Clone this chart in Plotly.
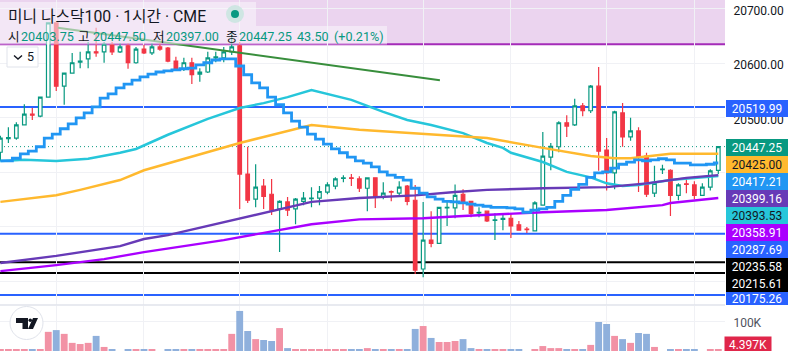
import plotly.graph_objects as go

# ---------- data ----------
opens = [20437,20462,20463,20487,20507,20503,20538,20674,20558,20582,20602,20608,20621,20621,20634,20621,20632,20601,20626,20619,
         20630,20628,20604,20590,20601,20580,20584,20610,20610,20621,20632,20397,20351,20375,20360,20333,20346,20333,20347,20352,
         20353,20364,20375,20389,20390,20388,20371,20390,20355,20365,20362,20375,20349,20223,20276,20270,20335,20335,20360,20347,
         20326,20329,20312,20314,20316,20304,20296,20293,20340,20428,20447,20491,20487,20522,20513,20558,20441,20399,20509,20465,
         20476,20430,20362,20405,20404,20358,20379,20377,20358,20373,20403.75]
highs = [20467,20483,20492,20525,20518,20538,20674,20674,20582,20619,20621,20639,20665,20639,20639,20637,20637,20630,20634,20637,
         20637,20630,20612,20610,20610,20591,20621,20621,20630,20656,20639,20447,20415,20388,20388,20349,20355,20353,20364,20373,
         20375,20382,20391,20395,20397,20393,20391,20391,20382,20367,20384,20377,20377,20346,20329,20336,20346,20378,20369,20347,
         20336,20329,20325,20324,20325,20311,20300,20347,20474,20454,20494,20505,20535,20527,20560,20593,20463,20513,20527,20500,
         20483,20436,20412,20414,20406,20380,20391,20384,20380,20406,20447.5]
lows = [20421,20454,20460,20487,20496,20501,20538,20549,20524,20582,20591,20591,20612,20601,20615,20619,20590,20599,20617,20615,
        20623,20602,20586,20586,20562,20566,20582,20602,20602,20615,20333,20344,20336,20333,20322,20254,20320,20305,20340,20336,
        20340,20360,20369,20382,20375,20364,20329,20335,20351,20347,20355,20340,20214,20208,20263,20269,20302,20316,20331,20318,
        20318,20309,20276,20294,20280,20293,20289,20293,20340,20404,20437,20465,20485,20503,20509,20403,20367,20369,20447,20458,
        20364,20355,20355,20397,20320,20349,20362,20351,20358,20367,20397]
closes = [20463,20464,20487,20507,20505,20538,20674,20558,20582,20601,20604,20621,20619,20635,20621,20630,20601,20626,20619,20630,
          20626,20604,20590,20601,20579,20584,20610,20612,20621,20630,20397,20349,20373,20356,20331,20347,20331,20351,20353,20353,
          20365,20377,20388,20390,20389,20371,20390,20356,20362,20364,20373,20347,20221,20276,20270,20336,20336,20358,20346,20325,
          20327,20311,20313,20316,20302,20294,20295,20344,20430,20448,20491,20485,20522,20513,20558,20439,20399,20511,20465,20476,
          20428,20360,20380,20406,20358,20377,20378,20358,20373,20403,20447.25]
volumes_k = [7,7,4,7,4,7,66,72,59,28,24,28,52,14,4,0,4,4,4,4,0,4,4,4,7,4,7,7,7,59,138,69,41,38,34.5,79,10,4,4,4,4,4,4,4,4,4,10,7,7,4,4,7,
             76,86,45,31,31,34.5,41,10,4,4,4,4,4,4,0,4,17,10,10,7,7,7,21,100,93,52,41,28,62,59,14,0,7,4,4,4,0,4,4.397]
volume_kind = list("ppppbppbppppbpb" "bbpbpb" "bbpbpppppbbp" "bbpb" "ppppppp" "bb" "pbpbpb" "bpbpppbb" "pbppbb" "bppp" "pbpbpbbpbpbbpbbpbbbpp")
step_line = [20421,20421,20426,20434,20439,20447,20463,20470,20480,20489,20500,20509,20520,20536,20544,20555,20562,20569,20575,20580,
             20584,20586,20588,20590,20591,20597,20601,20606,20608,20608,20595,20579,20564,20555,20538,20524,20509,20494,20483,20470,
             20461,20452,20443,20436,20428,20421,20417,20410,20401,20395,20391,20386,20371,20362,20355,20351,20347,20346,20344,20342,
             20340,20338,20336,20336,20335,20333,20327,20331,20333,20336,20347,20358,20369,20378,20391,20399,20401,20408,20415,20419,
             20423,20421,20423,20425,20423,20417,20417,20414,20414,20415,20417.21]
cyan_i = [0,3,7,11,15,17,21,26,30,33,36,39,44,48,51,54,58,61,63,64,68,71,74,76,78,80,84,88,90]
cyan_v = [20421,20423,20421,20425,20436,20443,20469,20498,20518,20527,20538,20551,20533,20511,20496,20487,20472,20454,20445,20436,
          20419,20401,20391,20380,20375,20377,20386,20391,20393.53]
yellow_i = [0,7,10,15,18,30,33,39,45,53,61,68,74,77,79,84,90]
yellow_v = [20346,20358,20368,20386,20404,20454,20465,20487,20478,20470,20463,20445,20430,20426,20426,20434,20434]
violet_i = [0,7,15,18,21,33,39,45,52,57,61,68,76,81,86,90]
violet_v = [20234,20247,20265,20278,20285,20325,20346,20353,20358,20364,20368,20371,20373,20380,20390,20395]
magenta_i = [0,7,13,18,28,33,39,45,53,58,63,68,76,83,84,90]
magenta_v = [20219,20230,20241,20254,20276,20289,20305,20314,20316,20320,20324,20327,20331,20340,20344,20353]
trend_i = [7.2,55.1]
trend_v = [20665,20569]
blue_levels = [20519.99,20287.69,20175.26]
black_levels = [20235.58,20215.61]
box_level = 20635
last_price = 20447.25
grid_i = [7,18,30,41,53,64,76,87]
price_ticks = [20700,20600,20500,20400,20300,20200]
price_tick_text = ["20700.00","20600.00","20500.00","","",""]
axis_labels = [("20519.99",108,"#2962ff","#ffffff"),("20447.25",147.5,"#089981","#ffffff"),("20425.00",164.5,"#ffb92e","#131722"),
               ("20417.21",181.5,"#2196f3","#ffffff"),("20399.16",198.5,"#673ab7","#ffffff"),("20393.53",215.5,"#26c6da","#131722"),
               ("20358.91",232.5,"#aa00ff","#ffffff"),("20287.69",249.5,"#2962ff","#ffffff"),("20235.58",266.5,"#000000","#ffffff"),
               ("20215.61",283.5,"#000000","#ffffff"),("20175.26",300,"#2962ff","#ffffff")]
title_text = "미니 나스닥100 · 1시간 · CME"
ohlc_row = [("시",7,"#131722"),("20403.75",20,"#089981"),("고",77,"#131722"),("20447.50",92,"#089981"),("저",152,"#131722"),
            ("20397.00",165,"#089981"),("종",225,"#131722"),("20447.25",238,"#089981"),("43.50",296,"#089981"),("(+0.21%)",333,"#089981")]

# ---------- helpers ----------
W, H = 788, 351
PANE_R = 725
px = lambda v: v / W
py = lambda v: 1 - v / H
FONT = "Roboto, 'Noto Sans CJK KR', sans-serif"
xs = list(range(len(closes)))
xrange = [-0.05, 90.84]

fig = go.Figure()
line_styles = [(cyan_i, cyan_v, "#26c6da", 2.5, "linear"), (yellow_i, yellow_v, "#ffb92e", 2.5, "linear"),
               (violet_i, violet_v, "#673ab7", 2.4, "linear"), (magenta_i, magenta_v, "#aa00ff", 2.4, "linear"),
               (trend_i, trend_v, "#388e3c", 2, "linear"), (xs, step_line, "#2196f3", 2.8, "hvh")]
for xv, yv, col, wd, shp in line_styles:
    fig.add_trace(go.Scatter(x=xv, y=yv, mode="lines", line=dict(color=col, width=wd, shape=shp),
                             hoverinfo="skip", showlegend=False, xaxis="x", yaxis="y"))
fig.add_trace(go.Candlestick(x=xs, open=opens, high=highs, low=lows, close=closes,
                             increasing=dict(line=dict(color="#089981", width=1.2), fillcolor="#ffffff"),
                             decreasing=dict(line=dict(color="#f23645", width=1.2), fillcolor="#f23645"),
                             whiskerwidth=0, showlegend=False, xaxis="x", yaxis="y"))
fig.add_trace(go.Bar(x=xs, y=volumes_k, width=0.86,
                     marker=dict(color=["#8fb0dc" if k == "b" else "#f292a5" for k in volume_kind], line_width=0),
                     showlegend=False, xaxis="x2", yaxis="y2"))

shapes = []
# purple box + levels
shapes.append(dict(type="rect", xref="paper", yref="y", x0=0, x1=px(PANE_R), y0=box_level, y1=20730,
                   fillcolor="rgba(156,39,176,0.2)", line_width=0, layer="below"))
def hline(level, color, width, dash="solid"):
    shapes.append(dict(type="line", xref="paper", yref="y", x0=0, x1=px(PANE_R), y0=level, y1=level,
                       line=dict(color=color, width=width, dash=dash), layer="below"))
hline(box_level, "#a42bb8", 2)
for lv in blue_levels:
    hline(lv, "#2962ff", 2)
for lv in black_levels:
    hline(lv, "#000000", 2)
hline(last_price, "#089981", 1, "1px,3px")

def prect(x0, y0, x1, y1, **kw):
    shapes.append(dict(type="rect", xref="paper", yref="paper", x0=px(x0), x1=px(x1), y0=py(y1), y1=py(y0), **kw))
# pane separator
shapes.append(dict(type="line", xref="paper", yref="paper", x0=0, x1=px(PANE_R), y0=py(305), y1=py(305),
                   line=dict(color="#e0e3eb", width=1.5), layer="above"))
# legend backgrounds
prect(0, 2, 256, 26, fillcolor="rgba(250,246,252,0.55)", line_width=0, layer="above")
prect(0, 26, 387, 44.5, fillcolor="rgba(250,246,252,0.55)", line_width=0, layer="above")
# status dot
shapes.append(dict(type="circle", xref="paper", yref="paper", x0=px(226), x1=px(244), y0=py(23), y1=py(5),
                   fillcolor="#cfe6e3", line_width=0, layer="above"))
shapes.append(dict(type="circle", xref="paper", yref="paper", x0=px(231), x1=px(239), y0=py(18), y1=py(10),
                   fillcolor="#089981", line_width=0, layer="above"))
# collapse button
prect(7, 47, 38, 67, fillcolor="#ffffff", line=dict(color="#e0e3eb", width=1), layer="above")
def path(points, closed=True):
    return "M " + " L ".join(f"{px(a):.5f},{py(b):.5f}" for a, b in points) + (" Z" if closed else "")
shapes.append(dict(type="path", xref="paper", yref="paper", path=path([(14, 55.5), (18, 59), (22, 55.5)], False),
                   line=dict(color="#131722", width=1.4), layer="above"))
# TradingView badge
shapes.append(dict(type="circle", xref="paper", yref="paper", x0=px(10), x1=px(43), y0=py(339.5), y1=py(306.5),
                   fillcolor="#ffffff", line=dict(color="#e0e3eb", width=1), layer="above"))
for pts in ([(16, 318), (28, 318), (28, 329), (22.5, 329), (22.5, 323), (16, 323)],
            [(33, 318), (38, 318), (33, 329), (28, 329)]):
    shapes.append(dict(type="path", xref="paper", yref="paper", path=path(pts), fillcolor="#131722", line_width=0, layer="above"))
shapes.append(dict(type="circle", xref="paper", yref="paper", x0=px(28.5), x1=px(32), y0=py(322), y1=py(318.5),
                   fillcolor="#131722", line_width=0, layer="above"))

ann = []
ann.append(dict(text=title_text, x=px(6), y=py(16), xanchor="left", yanchor="middle", showarrow=False,
                xref="paper", yref="paper", font=dict(size=15.8, color="#131722", family=FONT)))
for txt, left, col in ohlc_row:
    ann.append(dict(text=txt, x=px(left), y=py(36.5), xanchor="left", yanchor="middle", showarrow=False,
                    xref="paper", yref="paper", borderpad=0, font=dict(size=12.6, color=col, family=FONT)))
ann.append(dict(text="5", x=px(30), y=py(57), xanchor="center", yanchor="middle", showarrow=False,
                xref="paper", yref="paper", font=dict(size=12.5, color="#131722", family=FONT)))
for txt, yc, bg, fg in axis_labels:
    top = yc - 8.5 if txt != "20175.26" else 292
    bot = yc + 8.5 if txt != "20175.26" else 305
    ann.append(dict(text=txt, x=px(PANE_R + 31.5), y=py((top + bot) / 2), xanchor="center", yanchor="middle", showarrow=False,
                    xref="paper", yref="paper", width=62, height=bot - top, bgcolor=bg, borderpad=0, borderwidth=0, align="center",
                    font=dict(size=12, color=fg, family=FONT)))
ann.append(dict(text="4.397K", x=px(PANE_R + 23), y=py(344.5), xanchor="center", yanchor="middle", showarrow=False,
                xref="paper", yref="paper", width=46, height=15, bgcolor="#e0264a", borderpad=0, align="center",
                font=dict(size=12, color="#ffffff", family=FONT)))

grid = "#f0f1f5"
fig.update_layout(
    width=W, height=H, margin=dict(l=0, r=0, t=0, b=0, autoexpand=False),
    paper_bgcolor="#ffffff", plot_bgcolor="#ffffff", showlegend=False, boxgap=0.36,
    font=dict(family=FONT, size=12, color="#131722"),
    xaxis=dict(domain=[0, px(PANE_R)], range=xrange, anchor="y", rangeslider=dict(visible=False), tickvals=grid_i,
               showticklabels=False, ticks="", showgrid=True, gridcolor=grid, gridwidth=1, zeroline=False, showline=False),
    xaxis2=dict(domain=[0, px(PANE_R)], range=xrange, anchor="y2", tickvals=grid_i, showticklabels=False, ticks="",
                showgrid=True, gridcolor=grid, gridwidth=1, zeroline=False, showline=False),
    yaxis=dict(domain=[py(305), 1], range=[20157, 20716], side="right", anchor="x", tickvals=price_ticks,
               ticktext=price_tick_text, ticks="outside", ticklen=5, tickcolor="rgba(0,0,0,0)",
               ticklabelshift=2,
               tickfont=dict(size=12, color="#131722", family=FONT), showgrid=True, gridcolor=grid, gridwidth=1,
               zeroline=False, showline=False),
    yaxis2=dict(domain=[0, py(306)], range=[0, 155], side="right", anchor="x2", tickvals=[100], ticktext=["100K"],
                ticks="outside", ticklen=5, tickcolor="rgba(0,0,0,0)", ticklabelshift=1,
                tickfont=dict(size=12, color="#50535e", family=FONT), showgrid=True, gridcolor=grid, gridwidth=1,
                zeroline=False, showline=False),
    shapes=shapes, annotations=ann,
)
fig.write_html("out.html", config=dict(displayModeBar=False),
               post_script="document.body.style.margin='0';document.documentElement.style.overflow='hidden';")
